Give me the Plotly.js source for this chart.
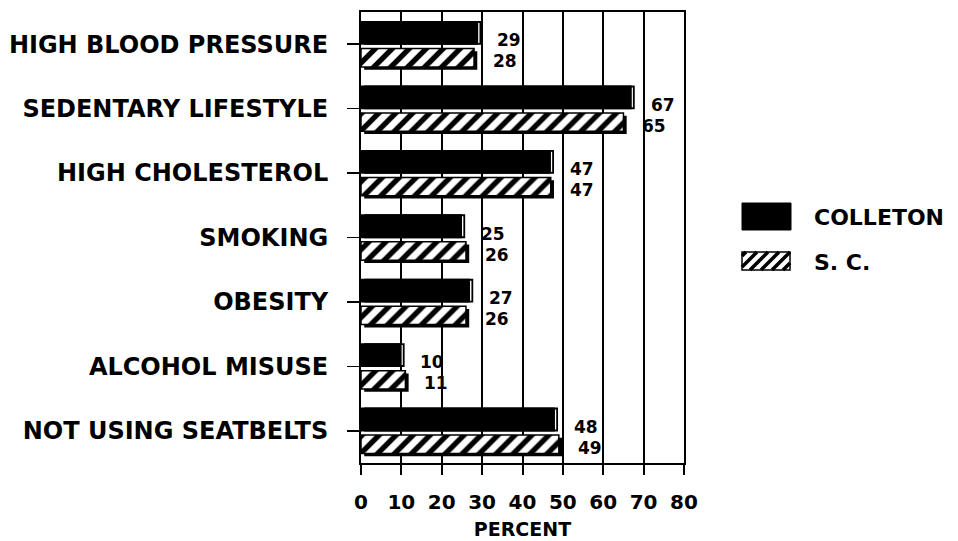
<!DOCTYPE html>
<html>
<head>
<meta charset="utf-8">
<script src="https://cdn.plot.ly/plotly-3.0.1.min.js"></script>
<style>
  html, body { margin: 0; padding: 0; background: #fff; }
  #plot { width: 958px; height: 541px; }
</style>
</head>
<body>
<div id="plot"></div>
<script>
// Risk factors, Colleton county vs South Carolina (percent)
const categories = ['HIGH BLOOD PRESSURE', 'SEDENTARY LIFESTYLE', 'HIGH CHOLESTEROL',
  'SMOKING', 'OBESITY', 'ALCOHOL MISUSE', 'NOT USING SEATBELTS'];
const colleton = [29, 67, 47, 25, 27, 10, 48];
const sc = [28, 65, 47, 26, 26, 11, 49];
const seriesNames = ['COLLETON', 'S. C.'];
const xTicks = [0, 10, 20, 30, 40, 50, 60, 70, 80];

const FONT = 'DejaVu Sans';
const bold = (size) => ({family: FONT, size: size, color: '#000', weight: 'bold'});

// plot area in pixels (used only for the legend swatches)
const M = {l: 361, r: 274, t: 12, b: 78};
const W = 958, H = 541;
const pw = W - M.l - M.r, ph = H - M.t - M.b;
const px = (x) => (x - M.l) / pw;
const py = (y) => (H - M.b - y) / ph;

const traces = [
  // colleton: extruded edge, highlight strip, face
  {type: 'bar', orientation: 'h', y: categories, x: colleton, base: 0.8,
   offset: -0.36, width: 0.37, marker: {color: '#000'}, hoverinfo: 'skip', showlegend: false},
  {type: 'bar', orientation: 'h', y: categories, x: colleton.map(() => 0.35), base: colleton,
   offset: -0.33, width: 0.31, marker: {color: '#fff'}, hoverinfo: 'skip', showlegend: false},
  {type: 'bar', orientation: 'h', y: categories, x: colleton, name: seriesNames[0],
   offset: -0.36, width: 0.37, marker: {color: '#000'}, showlegend: false},
  // s.c.: shadow then hatched face
  {type: 'bar', orientation: 'h', y: categories, x: sc, base: 0.8,
   offset: 0.11, width: 0.285, marker: {color: '#000'}, hoverinfo: 'skip', showlegend: false},
  {type: 'bar', orientation: 'h', y: categories, x: sc, name: seriesNames[1],
   offset: 0.067, width: 0.285,
   marker: {color: '#fff', line: {color: '#000', width: 1.5},
            pattern: {shape: '/', fgcolor: '#000', bgcolor: '#fff', size: 12, solidity: 0.45}},
   showlegend: false}
];

// value labels next to each bar pair
const annotations = [];
categories.forEach((c, i) => {
  annotations.push({x: colleton[i], y: c, text: String(colleton[i]), showarrow: false,
    xanchor: 'left', xshift: 17, yshift: 4, font: bold(17)});
  annotations.push({x: sc[i], y: c, text: String(sc[i]), showarrow: false,
    xanchor: 'left', xshift: 17, yshift: -17, font: bold(17)});
});

// legend
const shapes = [];
shapes.push({type: 'rect', xref: 'paper', yref: 'paper', x0: px(742), x1: px(791), y0: py(230), y1: py(203),
  fillcolor: '#000', line: {color: '#000', width: 1}});
const hb = {x0: 742, x1: 790, y0: 252, y1: 270};
shapes.push({type: 'rect', xref: 'paper', yref: 'paper', x0: px(hb.x0), x1: px(hb.x1), y0: py(hb.y1), y1: py(hb.y0),
  fillcolor: '#fff', line: {color: '#000', width: 1.5}});
const hh = hb.y1 - hb.y0;
for (let k = -hh + 4; k < hb.x1 - hb.x0; k += 11) {
  // 45 degree stripe clipped to the box
  let xa = hb.x0 + k, ya = hb.y1, xb = hb.x0 + k + hh, yb = hb.y0;
  if (xa < hb.x0) { ya -= (hb.x0 - xa); xa = hb.x0; }
  if (xb > hb.x1) { yb += (xb - hb.x1); xb = hb.x1; }
  shapes.push({type: 'line', xref: 'paper', yref: 'paper', x0: px(xa), y0: py(ya), x1: px(xb), y1: py(yb),
    line: {color: '#000', width: 3.5}});
}
annotations.push({xref: 'paper', yref: 'paper', x: px(812), y: py(217), xanchor: 'left', yanchor: 'middle',
  text: seriesNames[0], showarrow: false, font: bold(22)});
annotations.push({xref: 'paper', yref: 'paper', x: px(812), y: py(262), xanchor: 'left', yanchor: 'middle',
  text: seriesNames[1], showarrow: false, font: bold(22)});

const layout = {
  width: W, height: H,
  margin: M,
  paper_bgcolor: '#fff', plot_bgcolor: '#fff',
  barmode: 'overlay',
  showlegend: false,
  xaxis: {
    range: [0, 80], tickvals: xTicks, ticktext: xTicks.map(String),
    showgrid: true, gridcolor: '#000', gridwidth: 2, zeroline: false,
    showline: true, linecolor: '#000', linewidth: 2, mirror: true,
    ticks: 'outside', ticklen: 10, tickwidth: 2, tickcolor: '#000',
    ticklabelstandoff: 10,
    tickfont: bold(20),
    title: {text: 'PERCENT', font: bold(19), standoff: 10}
  },
  yaxis: {
    type: 'category', categoryorder: 'array', categoryarray: categories,
    range: [6.5, -0.5],
    showgrid: false, zeroline: false,
    showline: true, linecolor: '#000', linewidth: 2, mirror: true,
    ticks: 'outside', ticklen: 12, tickwidth: 1.5, tickcolor: '#000',
    ticklabelstandoff: 14,
    tickfont: bold(24)
  },
  annotations: annotations,
  shapes: shapes
};

Plotly.newPlot('plot', traces, layout, {displayModeBar: false, staticPlot: true});
</script>
</body>
</html>
